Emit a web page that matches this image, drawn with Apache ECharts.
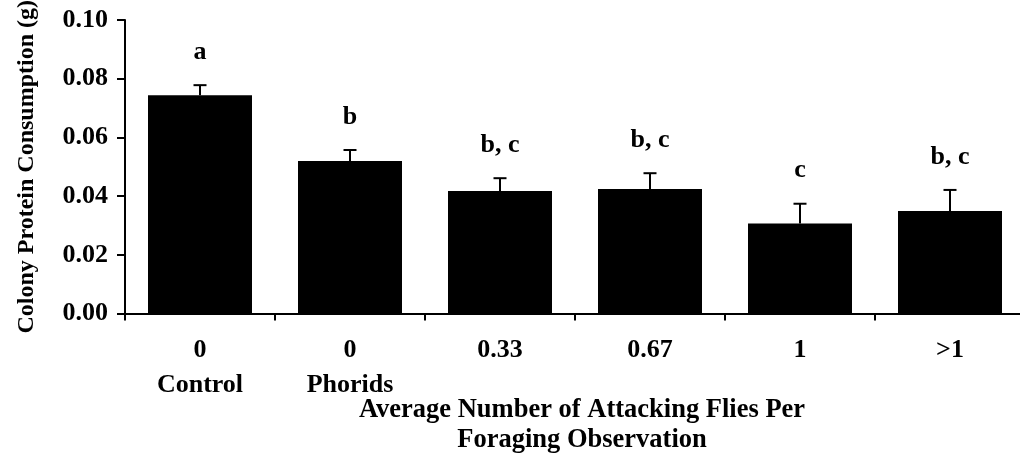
<!DOCTYPE html>
<html>
<head>
<meta charset="utf-8">
<script src="https://cdn.jsdelivr.net/npm/echarts@6/dist/echarts.min.js"></script>
<style>
  html, body { margin: 0; padding: 0; background: #fff; }
  #chart { width: 1020px; height: 455px; }
</style>
</head>
<body>
<div id="chart"></div>
<script>
// Mean colony protein consumption (g) by attack level, with standard errors
const categories = ['0\nControl', '0\nPhorids', '0.33', '0.67', '1', '>1'];
const means = [0.0744, 0.0520, 0.0417, 0.0424, 0.0307, 0.0349];
const errors = [0.0034, 0.0037, 0.0044, 0.0054, 0.0067, 0.0072];
const groupLetters = ['a', 'b', 'b, c', 'b, c', 'c', 'b, c'];
const yTicks = [0, 0.02, 0.04, 0.06, 0.08, 0.10];

const FONT = "'Liberation Serif', 'Times New Roman', serif";

const chart = echarts.init(document.getElementById('chart'), null, { renderer: 'canvas' });

const errData = means.map((m, i) => [i, m, m + errors[i]]);

chart.setOption({
  animation: false,
  backgroundColor: '#ffffff',
  grid: { left: 125, right: -5, top: 20, bottom: 141.5, containLabel: false, outerBoundsMode: 'none' },
  xAxis: {
    type: 'category',
    data: categories,
    boundaryGap: true,
    axisLine: { lineStyle: { color: '#000', width: 2 } },
    axisTick: { show: true, length: 7, inside: false, alignWithLabel: false, lineStyle: { color: '#000', width: 2 } },
    axisLabel: {
      color: '#000', fontFamily: FONT, fontWeight: 'bold', fontSize: 26,
      lineHeight: 35, margin: 19, interval: 0
    },
    name: 'Average Number of Attacking Flies Per\nForaging Observation',
    nameLocation: 'middle',
    nameGap: 82,
    nameMoveOverlap: false,
    nameTextStyle: {
      color: '#000', fontFamily: FONT, fontWeight: 'bold', fontSize: 26.5,
      lineHeight: 30, padding: [0, 0, 0, 14]
    }
  },
  yAxis: {
    type: 'value',
    min: yTicks[0],
    max: yTicks[yTicks.length - 1],
    interval: 0.02,
    splitLine: { show: false },
    axisLine: { show: true, lineStyle: { color: '#000', width: 2 } },
    axisTick: { show: true, length: 8, inside: false, lineStyle: { color: '#000', width: 2 } },
    axisLabel: {
      color: '#000', fontFamily: FONT, fontWeight: 'bold', fontSize: 26, margin: 17,
      formatter: v => v.toFixed(2)
    },
    name: 'Colony Protein Consumption (g)',
    nameLocation: 'middle',
    nameGap: 86,
    nameMoveOverlap: false,
    nameTextStyle: { color: '#000', fontFamily: FONT, fontWeight: 'bold', fontSize: 24 }
  },
  series: [
    {
      type: 'bar',
      data: means,
      barWidth: 104,
      itemStyle: { color: '#000' },
      z: 2
    },
    {
      // upper error whisker with a cap, plus the significance letters above it
      type: 'custom',
      data: errData,
      z: 3,
      renderItem: function (params, api) {
        const i = api.value(0);
        const top = api.coord([i, api.value(2)]);
        const base = api.coord([i, api.value(1)]);
        const cap = 6.5;
        return {
          type: 'group',
          children: [
            { type: 'line', shape: { x1: top[0], y1: base[1], x2: top[0], y2: top[1] },
              style: { stroke: '#000', lineWidth: 2 } },
            { type: 'line', shape: { x1: top[0] - cap, y1: top[1], x2: top[0] + cap, y2: top[1] },
              style: { stroke: '#000', lineWidth: 2 } },
            { type: 'text', x: top[0], y: top[1] - 20,
              style: { text: groupLetters[params.dataIndex], fill: '#000',
                       font: "bold 26px 'Liberation Serif', 'Times New Roman', serif",
                       align: 'center', verticalAlign: 'bottom' } }
          ]
        };
      }
    }
  ]
});
</script>
</body>
</html>
